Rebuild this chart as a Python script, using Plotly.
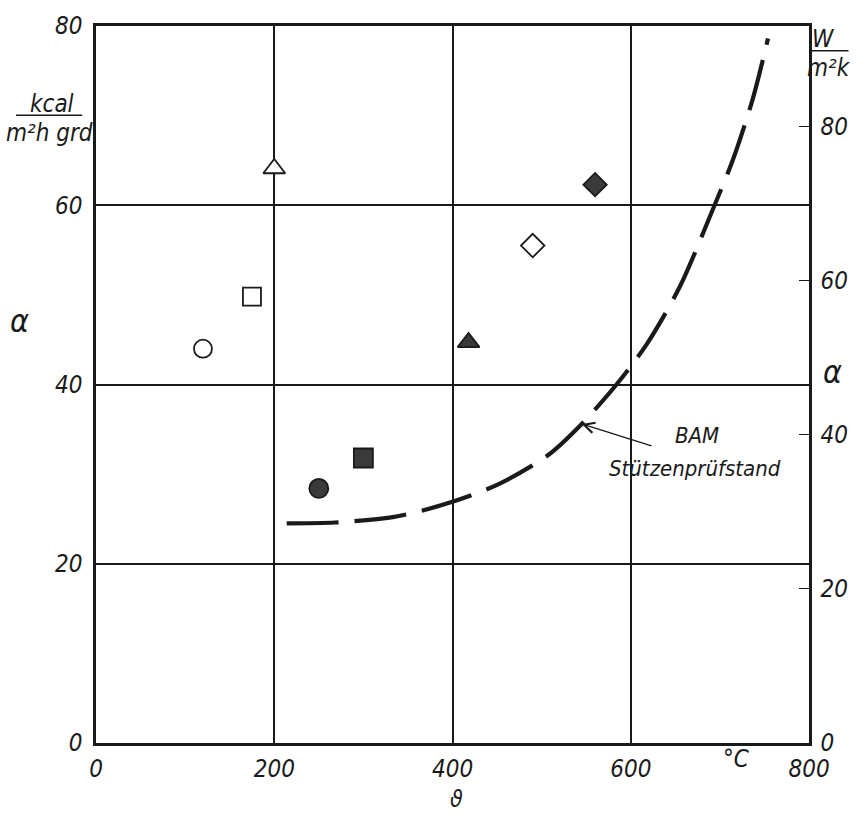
import plotly.graph_objects as go

# --- data ---
temp_points = [120, 175, 200, 250, 300, 418, 490, 560]          # °C
alpha_points = [44.0, 49.8, 64.1, 28.4, 31.8, 44.7, 55.5, 62.3]  # kcal/m²h grd

bam_temp = [214, 268, 333, 390, 450, 507, 545, 584, 618, 655, 694, 714, 737, 754]
bam_alpha = [24.5, 24.6, 25.2, 26.6, 28.8, 32.1, 35.6, 40.0, 44.5, 50.9, 60.0, 64.9, 71.9, 78.6]

x_ticks = [0, 200, 400, 600, 800]
y_ticks = [0, 20, 40, 60, 80]
w_ticks = [0, 20, 40, 60, 80]
KCAL_TO_W = 1.163

# --- styles ---
symbols = ["circle", "square", "triangle-up", "circle", "square", "triangle-up", "diamond", "diamond"]
fills = ["white", "white", "white", "#3a3a3a", "#3a3a3a", "#3a3a3a", "white", "#3a3a3a"]
sizes = [18, 18, 19, 19, 19, 19, 18, 18]

FONT = "DejaVu Sans Condensed, DejaVu Sans, sans-serif"
INK = "#1a1a1a"

fig = go.Figure()

fig.add_trace(go.Scatter(
    x=bam_temp, y=bam_alpha, mode="lines",
    line=dict(color=INK, width=4.2, dash="52px,16px", shape="spline", smoothing=0.8),
    hoverinfo="skip", showlegend=False,
))

fig.add_trace(go.Scatter(
    x=temp_points, y=alpha_points, mode="markers",
    marker=dict(symbol=symbols, color=fills, size=sizes, opacity=1,
                line=dict(color=INK, width=1.8)),
    showlegend=False,
))

# invisible trace to anchor the right-hand (W/m²K) axis
fig.add_trace(go.Scatter(x=[0], y=[0], yaxis="y2", mode="markers",
                         marker=dict(opacity=0), hoverinfo="skip", showlegend=False))

tickfont = dict(family=FONT, size=24, color=INK, style="italic")

fig.update_layout(
    width=860, height=815,
    margin=dict(l=96, r=42, t=20, b=72),
    paper_bgcolor="white", plot_bgcolor="white",
    xaxis=dict(range=[0, 800], tickvals=x_ticks, ticktext=[str(v) for v in x_ticks],
               showgrid=True, gridcolor=INK, gridwidth=1.5,
               showline=True, linecolor=INK, linewidth=2.5, mirror=True,
               zeroline=False, ticks="", tickfont=tickfont, ticklabelstandoff=2),
    yaxis=dict(range=[0, 80], tickvals=y_ticks, ticktext=[str(v) for v in y_ticks],
               showgrid=True, gridcolor=INK, gridwidth=1.5,
               showline=True, linecolor=INK, linewidth=2.5, mirror=True,
               zeroline=False, ticks="", tickfont=tickfont, ticklabelstandoff=6),
    yaxis2=dict(range=[0, 80 * KCAL_TO_W], overlaying="y", side="right",
                tickvals=w_ticks, ticktext=[str(v) for v in w_ticks],
                showgrid=False, zeroline=False, showline=True, linecolor=INK, linewidth=2.5,
                ticks="inside", ticklen=10, tickwidth=1.3, tickcolor=INK,
                tickfont=tickfont, ticklabelstandoff=4),
)

def txt(text, x, y, size=24, **kw):
    fig.add_annotation(text=text, x=x, y=y, xref="paper", yref="paper",
                       showarrow=False, xanchor="center", yanchor="middle", borderpad=0,
                       font=dict(family=FONT, size=size, color=INK, style="italic"), **kw)

# axis symbols and units
txt("α", -0.1066, 0.589, size=32)
txt("α", 1.0332, 0.5173, size=32)
txt("ϑ", 0.5055, -0.0788, size=23)
txt("°C", 0.8989, -0.0221, size=24)
txt("kcal", -0.0623, 0.8907, size=24)
txt("m²h grd", -0.0651, 0.8506, size=24)
txt("W", 1.0208, 0.982, size=24)
txt("m²k", 1.0277, 0.9419, size=24)
fig.add_shape(type="line", xref="paper", yref="paper",
              x0=-0.1122, x1=-0.0194, y0=0.8755, y1=0.8755, line=dict(color=INK, width=1.5))
fig.add_shape(type="line", xref="paper", yref="paper",
              x0=1.0028, x1=1.0554, y0=0.9654, y1=0.9654, line=dict(color=INK, width=1.5))

# BAM label with arrow to the curve
txt("BAM", 0.8435, 0.4288, size=22)
txt("Stützenprüfstand", 0.8407, 0.3831, size=22)
fig.add_annotation(x=bam_temp[6], y=bam_alpha[6], xref="x", yref="y",
                   ax=625, ay=33.1, axref="x", ayref="y",
                   showarrow=True, arrowhead=5, arrowsize=1.6, arrowwidth=1.3,
                   arrowcolor=INK, text="")

fig.write_html("out.html", config={"displayModeBar": False},
               post_script="document.body.style.margin='0';document.body.style.overflow='hidden';")
